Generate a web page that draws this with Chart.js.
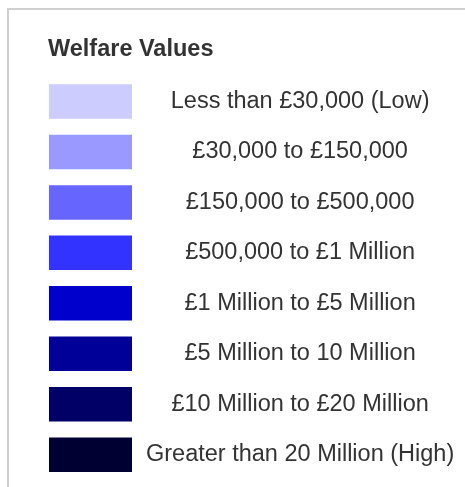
<!DOCTYPE html>
<html>
<head>
<meta charset="utf-8">
<script src="https://cdn.jsdelivr.net/npm/chart.js@4/dist/chart.umd.min.js"></script>
<style>
html,body{margin:0;padding:0;background:#fff;}
canvas{display:block;}
</style>
</head>
<body>
<canvas id="c" width="465" height="487"></canvas>
<script>
const title = "Welfare Values";
const categories = [
  "Less than £30,000 (Low)",
  "£30,000 to £150,000",
  "£150,000 to £500,000",
  "£500,000 to £1 Million",
  "£1 Million to £5 Million",
  "£5 Million to 10 Million",
  "£10 Million to £20 Million",
  "Greater than 20 Million (High)"
];
const swatchValues = [1, 1, 1, 1, 1, 1, 1, 1];
const swatchColors = ["#ccccff", "#9999ff", "#6666ff", "#3333ff", "#0000cc", "#000099", "#000066", "#000033"];

const frame = {
  id: 'frame',
  beforeDraw(chart) {
    const ctx = chart.ctx;
    ctx.save();
    ctx.fillStyle = '#fff';
    ctx.fillRect(0, 0, chart.width, chart.height);
    ctx.fillStyle = '#d0d0d0';
    ctx.fillRect(7, 8, chart.width - 7, 2);
    ctx.fillRect(7, 8, 2, chart.height - 8);
    ctx.restore();
  }
};

new Chart(document.getElementById('c'), {
  type: 'bar',
  data: {
    labels: categories,
    datasets: [{
      data: swatchValues,
      backgroundColor: swatchColors,
      borderColor: 'rgba(255,255,255,0.3)',
      borderWidth: 1,
      borderSkipped: false,
      categoryPercentage: 1,
      barPercentage: 0.723
    }]
  },
  options: {
    indexAxis: 'y',
    responsive: false,
    animation: false,
    layout: { padding: { top: 35, left: 48, right: 0, bottom: 7 } },
    plugins: {
      legend: { display: false },
      tooltip: { enabled: false },
      title: {
        display: true,
        text: title,
        align: 'start',
        color: '#333333',
        font: { family: 'Liberation Sans, Arial, sans-serif', size: 23.5, weight: 'bold', lineHeight: 1.2 },
        padding: { top: 0, bottom: 13 }
      }
    },
    scales: {
      x: { display: false, min: 0, max: 1 },
      y: {
        position: 'right',
        grid: { display: false, drawTicks: false },
        border: { display: false },
        ticks: {
          autoSkip: false,
          crossAlign: 'center',
          padding: 13,
          color: '#333333',
          font: { family: 'Liberation Sans, Arial, sans-serif', size: 23.5 }
        },
        afterFit(scale) {
          scale.width = 332;
          scale.paddingTop = 0;
          scale.paddingBottom = 0;
        }
      }
    }
  },
  plugins: [frame]
});
</script>
</body>
</html>
